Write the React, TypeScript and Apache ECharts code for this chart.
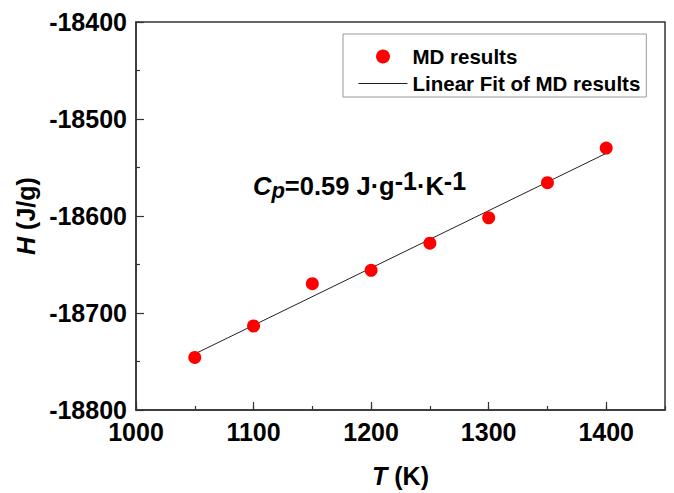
import React, { useEffect, useRef } from "react";
import * as echarts from "echarts";

const temperatures = [1050, 1100, 1150, 1200, 1250, 1300, 1350, 1400];
const enthalpies = [-18745.8, -18713.4, -18669.8, -18656.0, -18628.0, -18601.9, -18565.7, -18530.0];
const fitT = [1050, 1400];
const fitH = [-18742.2, -18535.4];
const seriesNames = ["MD results", "Linear Fit of MD results"];
const xRange = [1000, 1450];
const yRange = [-18800, -18400];

const FONT = "'Liberation Sans', Arial, sans-serif";

export default function App() {
  const ref = useRef<HTMLDivElement>(null);
  useEffect(() => {
    document.body.style.margin = "0";
    const chart = echarts.init(ref.current!, null, { renderer: "svg" });
    const axisColor = "#333";
    const labelStyle = {
      color: "#000",
      fontFamily: FONT,
      fontWeight: "bold" as const,
      fontSize: 25,
    };
    chart.setOption({
      animation: false,
      backgroundColor: "#fff",
      grid: {
        left: 136,
        right: 9,
        top: 22,
        bottom: 80,
        show: true,
        borderColor: axisColor,
        borderWidth: 1.5,
        backgroundColor: "transparent",
      },
      legend: {
        orient: "vertical",
        left: 343,
        top: 34,
        padding: [12, 6, 3, 15],
        itemGap: 6,
        itemWidth: 49,
        itemHeight: 14,
        borderColor: "#999",
        borderWidth: 1,
        borderRadius: 0,
        textStyle: {
          color: "#000",
          fontFamily: FONT,
          fontWeight: "bold",
          fontSize: 20.5,
          lineHeight: 20,
        },
        data: [
          { name: seriesNames[0], icon: "circle" },
          {
            name: seriesNames[1],
            itemStyle: { opacity: 0 },
            lineStyle: { color: "#222", width: 1, opacity: 1 },
          },
        ],
      },
      xAxis: [
        {
          type: "value",
          min: xRange[0],
          max: xRange[1],
          interval: 100,
          position: "bottom",
          name: "{i|T} (K)",
          nameLocation: "middle",
          nameGap: 53,
          nameTextStyle: {
            ...labelStyle,
            rich: {
              i: { ...labelStyle, fontStyle: "italic" },
            },
          },
          axisLine: { show: true, lineStyle: { color: axisColor, width: 1.5 } },
          axisTick: { show: true, inside: true, length: 8, lineStyle: { color: axisColor, width: 1.2 } },
          axisLabel: {
            ...labelStyle,
            margin: 9,
            showMaxLabel: false,
            formatter: (v: number) => String(v),
          },
          splitLine: { show: false },
        },
        {
          type: "value",
          min: xRange[0],
          max: xRange[1],
          interval: 50,
          position: "bottom",
          axisLine: { show: false },
          axisTick: { show: true, inside: true, length: 4, lineStyle: { color: axisColor, width: 1.2 } },
          axisLabel: { show: false },
          splitLine: { show: false },
        },
      ],
      yAxis: {
        type: "value",
        min: yRange[0],
        max: yRange[1],
        interval: 100,
        name: "{i|H} (J/g)",
        nameLocation: "middle",
        nameGap: 95,
        nameTextStyle: {
          ...labelStyle,
          rich: {
            i: { ...labelStyle, fontStyle: "italic" },
          },
        },
        axisLine: { show: true, lineStyle: { color: axisColor, width: 1.5 } },
        axisTick: { show: true, inside: true, length: 8, lineStyle: { color: axisColor, width: 1.2 } },
        minorTick: { show: true, splitNumber: 2, length: 4, lineStyle: { color: axisColor, width: 1.2 } },
        axisLabel: {
          ...labelStyle,
          margin: 9,
          formatter: (v: number) => String(v),
        },
        splitLine: { show: false },
      },
      graphic: [
        {
          type: "text",
          left: 253,
          top: 168,
          style: {
            text: "{c|C}{p|p}{m|=0.59 J·g}{s|-1}{m|·K}{s|-1}",
            fill: "#000",
            rich: {
              c: { fontFamily: FONT, fontWeight: "bold", fontStyle: "italic", fontSize: 25.5, lineHeight: 28, padding: [0, 0, 6, 0], verticalAlign: "bottom" },
              p: { fontFamily: FONT, fontWeight: "bold", fontStyle: "italic", fontSize: 22, lineHeight: 24, padding: [0, 0, 4, 0], verticalAlign: "bottom" },
              m: { fontFamily: FONT, fontWeight: "bold", fontSize: 25.5, lineHeight: 28, padding: [0, 0, 6, 0], verticalAlign: "bottom" },
              s: { fontFamily: FONT, fontWeight: "bold", fontSize: 25, lineHeight: 27, padding: [0, 0, 12, 0], verticalAlign: "bottom" },
            },
          },
        },
      ],
      series: [
        {
          name: seriesNames[1],
          type: "line",
          xAxisIndex: 0,
          data: fitT.map((t, i) => [t, fitH[i]]),
          symbol: "none",
          lineStyle: { color: "#222", width: 1 },
          itemStyle: { color: "#222" },
          z: 2,
        },
        {
          name: seriesNames[0],
          type: "scatter",
          xAxisIndex: 0,
          data: temperatures.map((t, i) => [t, enthalpies[i]]),
          symbol: "circle",
          symbolSize: 13,
          itemStyle: { color: "#ff0000", opacity: 1 },
          z: 3,
        },
      ],
    });
    return () => chart.dispose();
  }, []);
  return <div ref={ref} style={{ width: 674, height: 493 }} />;
}
